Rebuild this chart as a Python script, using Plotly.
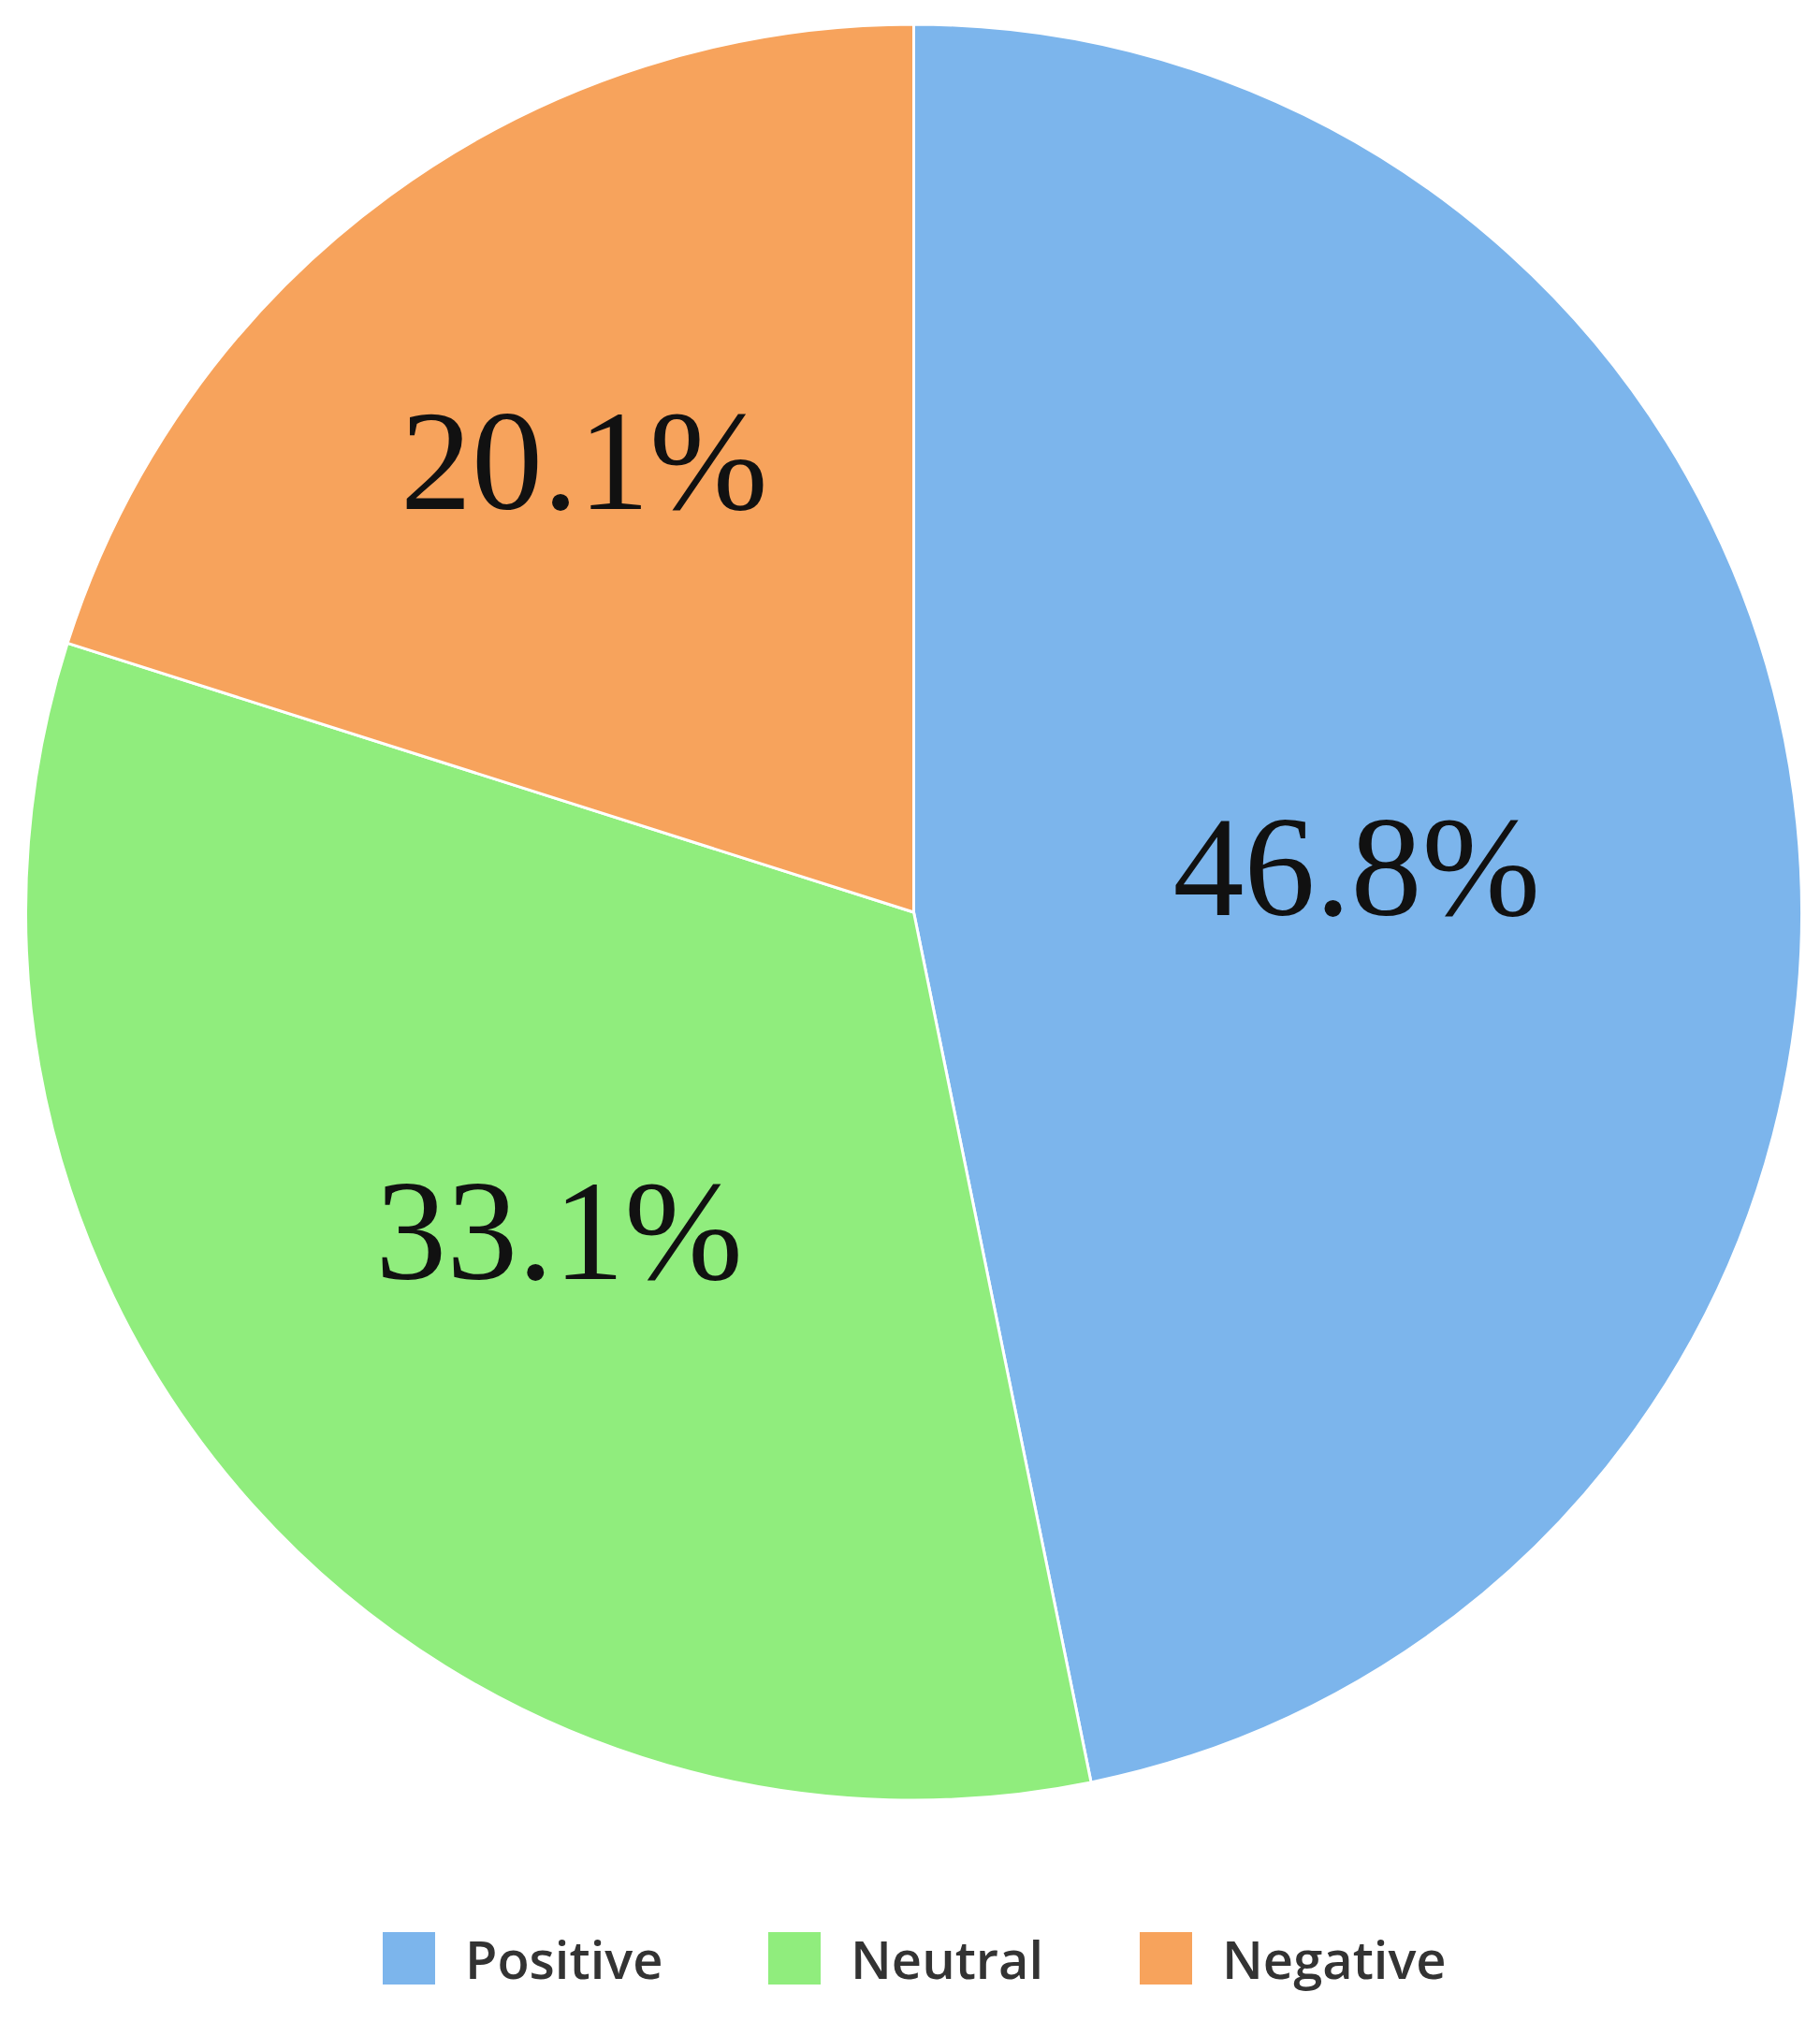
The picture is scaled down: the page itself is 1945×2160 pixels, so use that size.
import plotly.graph_objects as go

categories = ["Positive", "Neutral", "Negative"]
values = [46.8, 33.1, 20.1]
colors = ["#7cb5ec", "#90ed7d", "#f7a35c"]
labels_text = ["46.8%", "33.1%", "20.1%"]

W, H = 1945, 2160
OFF = 8  # browser default body margin

fig = go.Figure()
fig.add_trace(go.Pie(
    labels=categories,
    values=values,
    text=labels_text,
    textinfo="text",
    textposition="inside",
    insidetextorientation="horizontal",
    sort=False,
    direction="clockwise",
    rotation=0,
    marker=dict(colors=colors, line=dict(color="#ffffff", width=3)),
    textfont=dict(family="Liberation Serif", size=152, color="#111111"),
    domain=dict(x=[19.5 / W, 1917.5 / W], y=[(H - 1916.5) / H, (H - 17.5) / H]),
    showlegend=False,
    hoverinfo="label+percent",
))

# custom legend (large square swatches like the reference)
leg_sq_x = [409, 821, 1218]
sq = 56
leg_y_top, leg_y_bot = 2065, 2121
for i, name in enumerate(categories):
    x0 = leg_sq_x[i] - OFF
    fig.add_shape(type="rect", xref="paper", yref="paper",
                  x0=x0 / W, x1=(x0 + sq) / W,
                  y0=(H - (leg_y_bot - OFF)) / H, y1=(H - (leg_y_top - OFF)) / H,
                  fillcolor=colors[i], line=dict(width=0))
    fig.add_annotation(xref="paper", yref="paper",
                       x=(x0 + sq + 30) / W, y=(H - (2093 - OFF)) / H,
                       xanchor="left", yanchor="middle", showarrow=False,
                       text=name,
                       font=dict(family="Open Sans", size=56, color="#333333", weight=600))

fig.update_layout(
    width=W, height=H,
    margin=dict(l=0, r=0, t=0, b=0),
    paper_bgcolor="white", plot_bgcolor="white",
    showlegend=False,
)

fig.write_html("out.html")
